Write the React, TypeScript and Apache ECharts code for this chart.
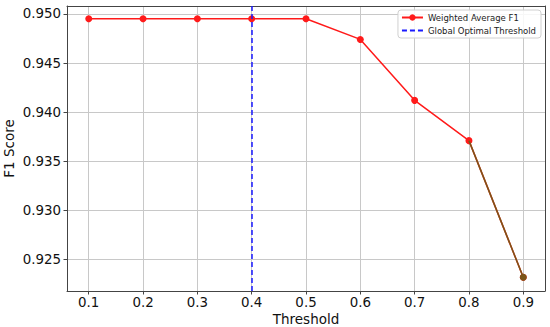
import React, { useEffect, useRef } from "react";
import * as echarts from "echarts";

const thresholds = [0.1, 0.2, 0.3, 0.4, 0.5, 0.6, 0.7, 0.8, 0.9];
const f1Values = [0.9495, 0.9495, 0.9495, 0.9495, 0.9495, 0.9474, 0.9412, 0.9371, 0.9232];
const optimalThreshold = 0.4;
const xTicks = [0.1, 0.2, 0.3, 0.4, 0.5, 0.6, 0.7, 0.8, 0.9];
const yTicks = [0.925, 0.93, 0.935, 0.94, 0.945, 0.95];

const FONT = "DejaVu Sans";
const X_MIN = 0.06;
const X_MAX = 0.94;
const Y_MIN = 0.9218;
const Y_MAX = 0.9508;

export default function App() {
  const ref = useRef<HTMLDivElement>(null);
  useEffect(() => {
    if (!ref.current) return;
    const chart = echarts.init(ref.current, null, { renderer: "svg" });
    const pairs = thresholds.map((t, i) => [t, f1Values[i]]);
    const n = pairs.length;
    const tailData = pairs.map((p, i) => (i >= n - 2 ? p : [p[0], null]));
    const frameAxis = {
      type: "value",
      axisLine: { show: true, onZero: false, lineStyle: { color: "#444", width: 1 } },
      axisTick: { show: false },
      axisLabel: { show: false },
      splitLine: { show: false },
    };
    chart.setOption({
      animation: false,
      backgroundColor: "#ffffff",
      grid: { left: 67, right: 5, top: 6, bottom: 36, containLabel: false, outerBoundsMode: "none" },
      xAxis: [
        {
          type: "value",
          min: X_MIN,
          max: X_MAX,
          name: "Threshold",
          nameLocation: "middle",
          nameGap: 21,
          nameMoveOverlap: false,
          nameTextStyle: { fontFamily: FONT, fontSize: 13.5, color: "#111" },
          axisLine: { show: true, onZero: false, lineStyle: { color: "#444", width: 1 } },
          axisTick: { show: true, length: 3.5, inside: false, customValues: xTicks, lineStyle: { color: "#444" } },
          axisLabel: {
            customValues: xTicks,
            fontFamily: FONT,
            fontSize: 13.4,
            color: "#111",
            margin: 5,
            formatter: (v: number) => v.toFixed(1),
          },
          splitLine: { show: true, lineStyle: { color: "#c8c8c8", width: 1 } },
        },
        { ...frameAxis, position: "top", min: X_MIN, max: X_MAX },
      ],
      yAxis: [
        {
          type: "value",
          min: Y_MIN,
          max: Y_MAX,
          name: "F1 Score",
          nameLocation: "middle",
          nameGap: 51,
          nameMoveOverlap: false,
          nameTextStyle: { fontFamily: FONT, fontSize: 13.5, color: "#111" },
          axisLine: { show: true, onZero: false, lineStyle: { color: "#444", width: 1 } },
          axisTick: { show: true, length: 3.5, inside: false, customValues: yTicks, lineStyle: { color: "#444" } },
          axisLabel: {
            customValues: yTicks,
            fontFamily: FONT,
            fontSize: 13.4,
            color: "#111",
            margin: 6,
            formatter: (v: number) => v.toFixed(3),
          },
          splitLine: { show: true, lineStyle: { color: "#c8c8c8", width: 1 } },
        },
        { ...frameAxis, position: "right", min: Y_MIN, max: Y_MAX },
      ],
      legend: {
        data: [
          { name: "Weighted Average F1" },
          { name: "Global Optimal Threshold", itemStyle: { opacity: 0 } },
        ],
        orient: "vertical",
        right: 9,
        top: 10,
        align: "left",
        backgroundColor: "rgba(255,255,255,0.85)",
        borderColor: "#d0d0d0",
        borderWidth: 1,
        borderRadius: 3,
        padding: [3, 5, 3, 3],
        itemGap: 4,
        itemWidth: 21,
        itemHeight: 8,
        textStyle: { fontFamily: FONT, fontSize: 8.5, color: "#222" },
      },
      series: [
        {
          name: "Weighted Average F1",
          type: "line",
          data: pairs,
          symbol: "circle",
          symbolSize: 7,
          itemStyle: { color: "#ff1a1a" },
          lineStyle: { color: "#ff1a1a", width: 1.5 },
          z: 3,
        },
        {
          name: "tail",
          type: "line",
          data: tailData,
          symbol: "circle",
          symbolSize: (v: any, p: any) => (p.dataIndex === n - 1 ? 7 : 0),
          itemStyle: { color: "#7b5518" },
          lineStyle: { color: "#7b5518", width: 1.5 },
          z: 4,
        },
        {
          name: "Global Optimal Threshold",
          type: "line",
          data: [],
          symbol: "none",
          itemStyle: { color: "#1a1aff" },
          lineStyle: { color: "#1a1aff", width: 1.5, type: [5, 3] },
          markLine: {
            silent: true,
            symbol: "none",
            label: { show: false },
            lineStyle: { color: "#1a1aff", width: 1.5, type: [5, 3] },
            data: [{ xAxis: optimalThreshold }],
          },
          z: 2,
        },
      ],
    });
    return () => chart.dispose();
  }, []);
  return (
    <div
      ref={ref}
      style={{ position: "absolute", left: 0, top: 0, width: 550, height: 327 }}
    />
  );
}
